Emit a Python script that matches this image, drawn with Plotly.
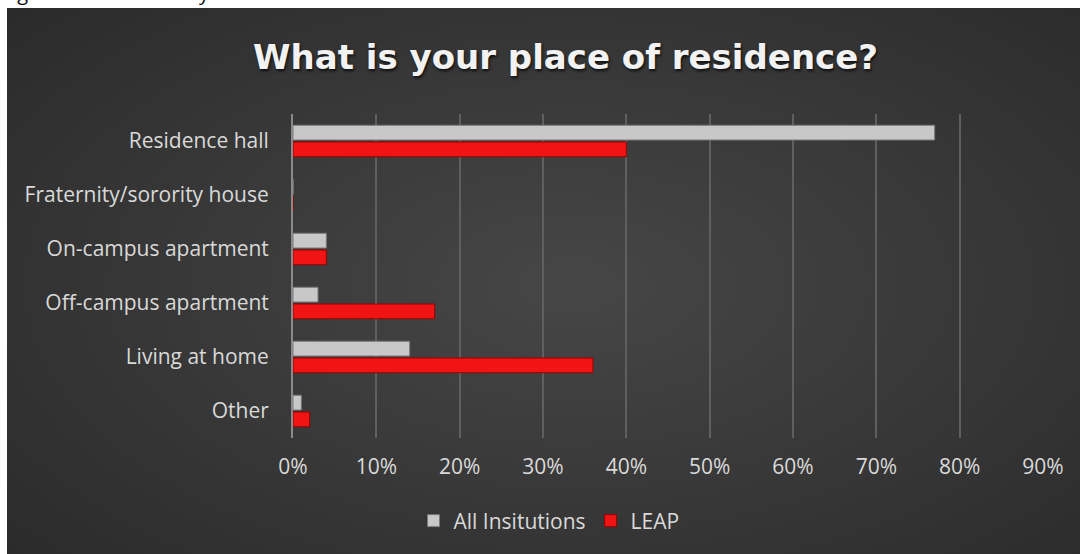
import plotly.graph_objects as go

# Survey answers: share of respondents by place of residence
categories = [
    "Residence hall",
    "Fraternity/sorority house",
    "On-campus apartment",
    "Off-campus apartment",
    "Living at home",
    "Other",
]
all_institutions = [77, 0, 4, 3, 14, 1]
leap = [40, 0, 4, 17, 36, 2]
x_ticks = [0, 10, 20, 30, 40, 50, 60, 70, 80, 90]
x_tick_labels = [f"{v}%" for v in x_ticks]

W, H = 1080, 554
LABEL = "#d9d9d9"


def px_x(px):
    return px / W


def px_y(py):
    return 1 - py / H


fig = go.Figure()

fig.add_trace(go.Bar(
    name="All Insitutions",
    y=categories,
    x=all_institutions,
    orientation="h",
    marker=dict(color="#c8c8c8", line=dict(color="#7a7a7a", width=1)),
))
fig.add_trace(go.Bar(
    name="LEAP",
    y=categories,
    x=leap,
    orientation="h",
    marker=dict(color="#f01414", line=dict(color="#9a0000", width=1)),
))

# dark panel with a soft radial glow toward the middle
shapes = [dict(
    type="rect", xref="paper", yref="paper", layer="below",
    x0=px_x(7), x1=1.02, y0=-0.02, y1=px_y(8),
    fillcolor="#282828", line=dict(width=0),
)]
cx, cy = 570, 285
steps = 30
for k in range(steps, 0, -1):
    f = k / steps
    rx, ry = 820 * f, 440 * f
    shapes.append(dict(
        type="circle", xref="paper", yref="paper", layer="below",
        x0=px_x(cx - rx), x1=px_x(cx + rx),
        y0=px_y(cy + ry), y1=px_y(cy - ry),
        fillcolor="rgba(255,255,255,0.0098)", line=dict(width=0),
    ))

fig.update_layout(
    width=W,
    height=H,
    margin=dict(l=0, r=0, t=0, b=0),
    paper_bgcolor="#ffffff",
    plot_bgcolor="rgba(0,0,0,0)",
    barmode="group",
    bargap=0.38,
    bargroupgap=0.12,
    shapes=shapes,
    font=dict(family="Open Sans, Lato, sans-serif", color=LABEL, size=21),
    xaxis=dict(
        domain=[px_x(293), px_x(1043)],
        range=[0, 90],
        tickvals=x_ticks,
        ticktext=x_tick_labels,
        showgrid=True,
        gridcolor="#5f5f5f",
        gridwidth=1.5,
        zeroline=False,
        showline=False,
        ticks="",
        ticklabelstandoff=14,
        tickfont=dict(size=21, color=LABEL),
        automargin=False,
        fixedrange=True,
    ),
    yaxis=dict(
        domain=[px_y(438), px_y(114)],
        autorange="reversed",
        showgrid=False,
        showline=True,
        linecolor="#8a8a8a",
        linewidth=2,
        ticks="",
        ticklabelstandoff=18,
        tickfont=dict(size=21, color=LABEL),
        automargin=False,
        fixedrange=True,
    ),
    legend=dict(
        orientation="h",
        x=px_x(549), xanchor="center",
        y=px_y(521), yanchor="middle",
        font=dict(size=21, color=LABEL),
        bgcolor="rgba(0,0,0,0)",
        traceorder="normal",
    ),
    showlegend=True,
    annotations=[
        dict(
            text="<b>What is your place of residence?</b>",
            x=px_x(565), y=px_y(57), xref="paper", yref="paper",
            xanchor="center", yanchor="middle", showarrow=False,
            font=dict(family="DejaVu Sans, sans-serif", size=34, color="#f2f2f2",
                      shadow="1px 2px 3px rgba(0,0,0,0.75)"),
        ),
        dict(
            text="Figure 4: Residence by LEAP students",
            x=0, y=px_y(8), xref="paper", yref="paper",
            xanchor="left", yanchor="bottom", showarrow=False,
            font=dict(family="Open Sans, sans-serif", size=20, color="#111111"),
        ),
    ],
)

fig.write_html("out.html")
